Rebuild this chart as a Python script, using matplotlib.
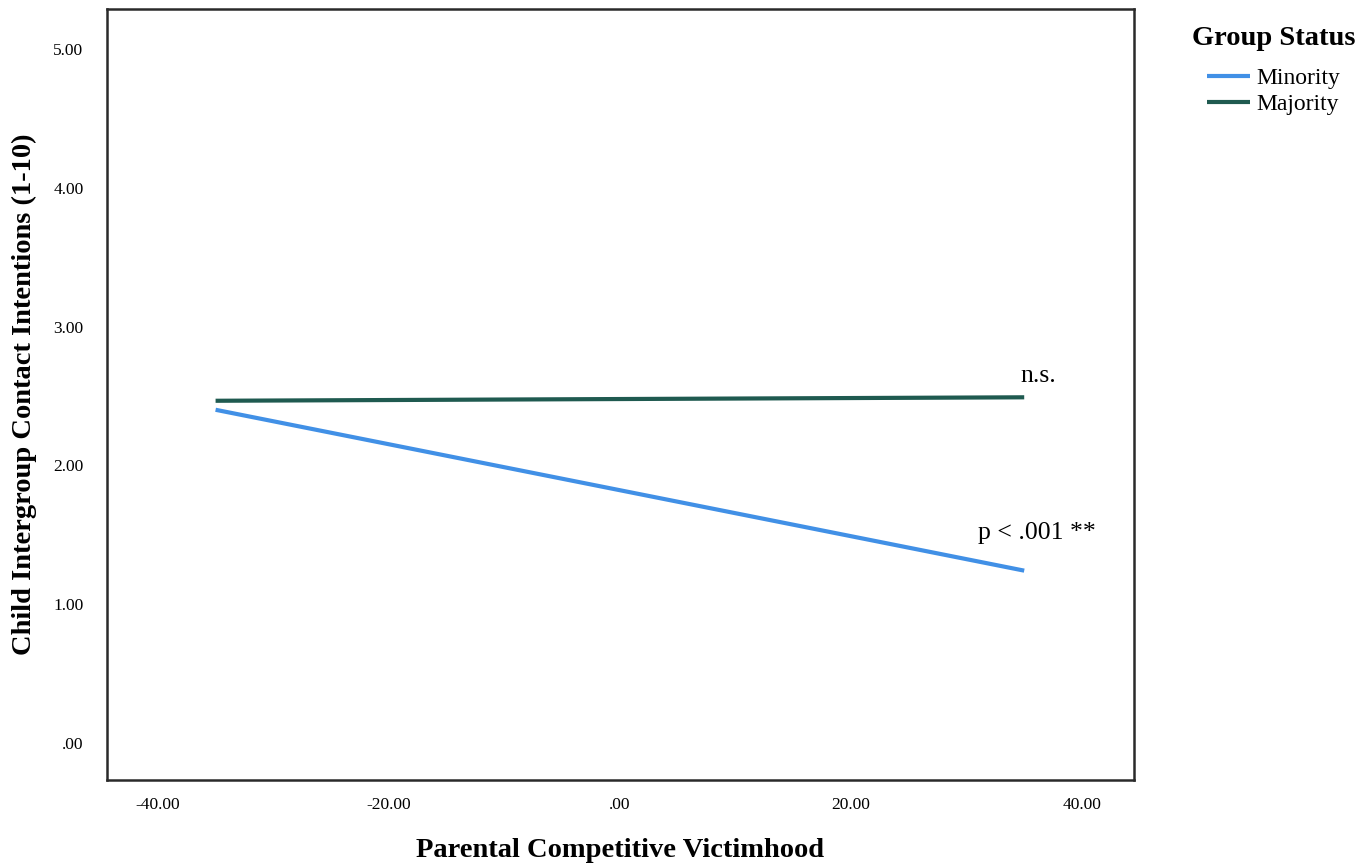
import numpy as np
import matplotlib as mpl
mpl.use("agg")
import matplotlib.pyplot as plt

# simple slopes
victimhood = [-35, 35]
minority = [2.40, 1.24]
majority = [2.465, 2.49]
colors = {"Minority": "#4190e6", "Majority": "#1f5a50"}
notes = ["n.s.", "p < .001 **"]
note_x = [36.2, 36.1]
note_y = [2.645, 1.515]

xticks = [-40, -20, 0, 20, 40]
yticks = [0, 1, 2, 3, 4, 5]

def fmt(v):
    s = "{:.2f}".format(v)
    if s.startswith("0."):
        s = s[1:]
    return s

plt.rcParams["font.family"] = ["Liberation Serif", "DejaVu Serif"]

fig = plt.figure(figsize=(13.7, 8.67), dpi=100)
ax = fig.add_axes([0.0781, 0.1003, 0.7496, 0.8893])

ax.plot(victimhood, minority, color=colors["Minority"], lw=3, label="Minority",
        solid_capstyle="butt")
ax.plot(victimhood, majority, color=colors["Majority"], lw=3, label="Majority",
        solid_capstyle="butt")

for t, x, y in zip(notes, note_x, note_y):
    ax.text(x, y, t, ha="center", va="center", fontsize=18.5)

ax.set_xlim(-44.4, 44.5)
ax.set_ylim(-0.27, 5.29)
ax.set_xticks(xticks)
ax.set_yticks(yticks)
ax.set_xticklabels([fmt(v) for v in xticks])
ax.set_yticklabels([fmt(v) for v in yticks])
ax.tick_params(length=0, labelsize=12.5)
ax.tick_params(axis="x", pad=12)
ax.tick_params(axis="y", pad=17)
for sp in ax.spines.values():
    sp.set_linewidth(1.8)
    sp.set_color("#2a2a2a")

ax.set_xlabel("Parental Competitive Victimhood", fontsize=20.5, fontweight="bold")
ax.xaxis.set_label_coords(0.5, -0.091)
ax.xaxis.label.set_va("center")
ax.set_ylabel("Child Intergroup Contact Intentions (1-10)", fontsize=20.5,
              fontweight="bold")
ax.yaxis.set_label_coords(-0.080, 0.5)
ax.yaxis.label.set_va("center")

leg = fig.legend(loc="upper left", bbox_to_anchor=(0.856, 0.992), frameon=False,
                 title="Group Status", fontsize=17, handlelength=1.85,
                 handletextpad=0.25, labelspacing=0.2, borderpad=0.3)
leg.get_title().set_fontweight("bold")
leg.get_title().set_fontsize(20.5)
leg._legend_box.sep = 12  # gap under the title
for ln in leg.get_lines():
    ln.set_linewidth(3)

fig.savefig("out.png", dpi=100)
